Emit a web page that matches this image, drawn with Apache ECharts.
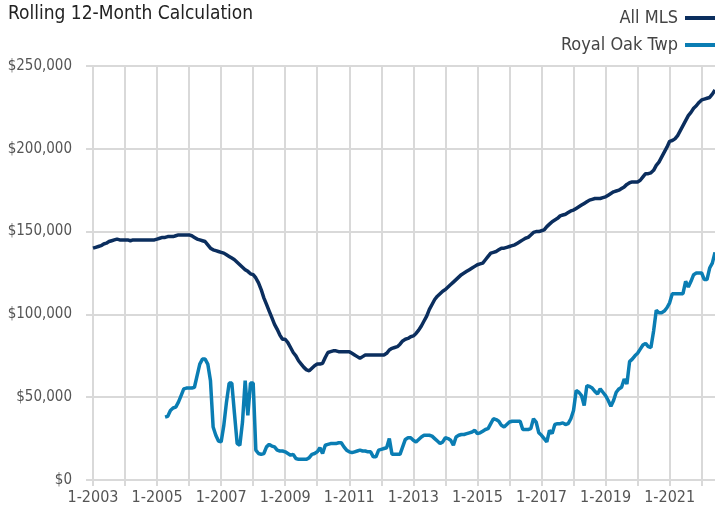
<!DOCTYPE html>
<html>
<head>
<meta charset="utf-8">
<title>Rolling 12-Month Calculation</title>
<script src="https://cdn.jsdelivr.net/npm/echarts@6/dist/echarts.min.js"></script>
<style>
  html, body { margin: 0; padding: 0; background: #fff; }
  #chart { width: 715px; height: 515px; }
</style>
</head>
<body>
<div id="chart"></div>
<script>
// monthly, Jan 2003 .. Jun 2022 (values in $1,000)
var firstYear = 2003;
var monthCount = 234;
var seriesNames = ['All MLS', 'Royal Oak Twp'];
var yTicks = [0, 50000, 100000, 150000, 200000, 250000];

var allMls = [
  140, 140.5, 141, 141.5, 142.5, 143, 144, 144.5, 145, 145.5, 145, 145,
  145, 145, 144.5, 145, 145, 145, 145, 145, 145, 145, 145, 145,
  145.5, 146, 146.5, 146.5, 147, 147, 147, 147.5, 148, 148, 148, 148,
  148, 147.5, 146.5, 145.5, 145, 144.5, 144, 142, 140, 139, 138.5, 138,
  137.5, 137, 136, 135, 134, 133, 131.5, 130, 128.5, 127, 126, 124.5,
  124, 122, 119, 115, 110, 106, 102, 98, 94, 91, 87.5, 85,
  85, 83, 80, 77, 75, 72, 70, 68, 66.5, 66, 67.5, 69,
  70, 70, 70.5, 74, 77, 77.5, 78, 78, 77.5, 77.5, 77.5, 77.5,
  77.5, 76.5, 75.5, 74.5, 73.5, 74.5, 75.5, 75.5, 75.5, 75.5, 75.5, 75.5,
  75.5, 75.5, 76.5, 78.5, 79.5, 80, 80.5, 82, 84, 85, 85.5, 86.5,
  87, 88.5, 90.5, 93, 96, 99, 103, 106, 109, 111, 112.5, 114,
  115, 116.5, 118, 119.5, 121, 122.5, 124, 125, 126, 127, 128, 129,
  130, 130.5, 131, 133, 135, 137, 137.5, 138, 139, 140, 140, 140.5,
  141, 141.5, 142, 143, 144, 145, 146, 146.5, 148, 149.5, 150, 150,
  150.5, 151, 153, 154.5, 156, 157, 158, 159.5, 160, 160.5, 161.5, 162.5,
  163, 164, 165, 166, 167, 168, 169, 169.5, 170, 170, 170, 170.5,
  171, 172, 173, 174, 174.5, 175, 176, 177, 178.5, 179.5, 180, 180,
  180, 181, 183, 185, 185, 185.5, 187, 190, 192, 195, 198, 201,
  204.5, 205, 206, 208, 211, 214, 217, 220, 222, 224.5, 226, 228,
  229.5, 230, 230.5, 231, 233, 235.5
];

var royalOak = [
  null, null, null, null, null, null, null, null, null, null, null, null,
  null, null, null, null, null, null, null, null, null, null, null, null,
  null, null, null, 38, 38.5, 42, 43.5, 44, 47, 51, 55, 55.5,
  55.5, 55.5, 56, 63, 70, 73, 73, 70, 60, 32, 27, 23.5,
  23, 33, 47, 58.5, 58.5, 40, 22, 21, 35, 60, 39, 58.5,
  58.5, 18, 16, 15.5, 16, 20, 21.5, 20.5, 20, 18, 17.5, 17.5,
  17, 16, 15, 15.5, 13, 12.5, 12.5, 12.5, 12.5, 13.5, 15.5, 16,
  17, 19.5, 16, 21, 21.5, 22, 22, 22, 22.5, 22.5, 20, 18,
  17, 16.5, 17, 17.5, 18, 17.5, 17.5, 17, 17, 14, 14, 18,
  18.5, 19, 19.5, 25, 15.5, 15.5, 15.5, 15.5, 20, 24.5, 25.5, 25.5,
  24, 23, 24.5, 26, 27, 27, 27, 26.5, 25, 23.5, 22, 23,
  25.5, 25, 24, 21, 26, 27, 27.5, 27.5, 28, 28.5, 29, 30,
  28, 28.5, 29.5, 30.5, 31, 34, 37, 36.5, 35.5, 33, 32, 33.5,
  35, 35.5, 35.5, 35.5, 35.5, 30.5, 30.5, 30.5, 31, 37, 35, 28.5,
  27, 25, 23, 30, 28, 33.5, 34, 34, 34.5, 33.5, 34, 37,
  42, 54, 53, 51, 45, 57, 56.5, 55.5, 53.5, 52, 55, 53,
  51, 48, 44.5, 48, 53, 55, 56, 61, 58, 71.5, 73, 75,
  76.5, 79, 81.5, 82.5, 80.5, 80, 90, 102.5, 101, 101, 102, 104,
  107, 112.5, 112.5, 112.5, 112.5, 112.5, 120, 116.5, 120, 124, 125, 125,
  125, 121, 121, 128, 131, 137.5
];

var months = [];
for (var i = 0; i < monthCount; i++) {
  months.push((i % 12 + 1) + '-' + (firstYear + Math.floor(i / 12)));
}

function toDollars(arr) {
  return arr.map(function(v) { return v === null ? null : v * 1000; });
}

function fmtMoney(v) {
  return '$' + String(v).replace(/\B(?=(\d{3})+(?!\d))/g, ',');
}

var FONT = '"Liberation Sans Narrow", "DejaVu Sans Condensed", "Liberation Sans", sans-serif';
var GRID_COLOR = '#d9d9d9';

var chart = echarts.init(document.getElementById('chart'), null, { renderer: 'canvas' });
chart.setOption({
  animation: false,
  backgroundColor: '#fff',
  title: {
    text: 'Rolling 12-Month Calculation',
    left: 3,
    top: 0,
    textStyle: { fontFamily: FONT, fontSize: 19, fontWeight: 'normal', color: '#222' }
  },
  legend: {
    orient: 'vertical',
    right: 0,
    top: 9,
    padding: 0,
    align: 'right',
    icon: 'rect',
    itemWidth: 30,
    itemHeight: 4,
    itemGap: 9,
    data: seriesNames,
    textStyle: { fontFamily: FONT, fontSize: 18, color: '#444', padding: [0, 2, 0, 0] }
  },
  grid: {
    left: 93,
    right: 0,
    top: 66,
    bottom: 35,
    containLabel: false,
    outerBoundsMode: 'none'
  },
  xAxis: {
    type: 'category',
    data: months,
    boundaryGap: false,
    axisLine: { show: true, lineStyle: { color: GRID_COLOR, width: 2 } },
    axisTick: { show: true, interval: 11, length: 6, lineStyle: { color: GRID_COLOR, width: 2 } },
    splitLine: { show: true, interval: 11, lineStyle: { color: GRID_COLOR, width: 2 } },
    axisLabel: {
      interval: 23,
      margin: 10,
      fontFamily: FONT,
      fontSize: 16,
      color: '#555'
    }
  },
  yAxis: {
    type: 'value',
    min: yTicks[0],
    max: yTicks[yTicks.length - 1],
    interval: 50000,
    axisLine: { show: true, lineStyle: { color: GRID_COLOR, width: 2 } },
    axisTick: { show: true, length: 7, lineStyle: { color: GRID_COLOR, width: 2 } },
    splitLine: { show: true, lineStyle: { color: GRID_COLOR, width: 2 } },
    axisLabel: {
      margin: 21,
      fontFamily: FONT,
      fontSize: 15,
      color: '#555',
      formatter: fmtMoney
    }
  },
  series: [
    {
      name: seriesNames[0],
      type: 'line',
      data: toDollars(allMls),
      showSymbol: false,
      color: '#0b2e5e',
      lineStyle: { width: 3.5, color: '#0b2e5e' }
    },
    {
      name: seriesNames[1],
      type: 'line',
      data: toDollars(royalOak),
      showSymbol: false,
      connectNulls: false,
      color: '#0a7db3',
      lineStyle: { width: 3.5, color: '#0a7db3' }
    }
  ]
});
</script>
</body>
</html>
